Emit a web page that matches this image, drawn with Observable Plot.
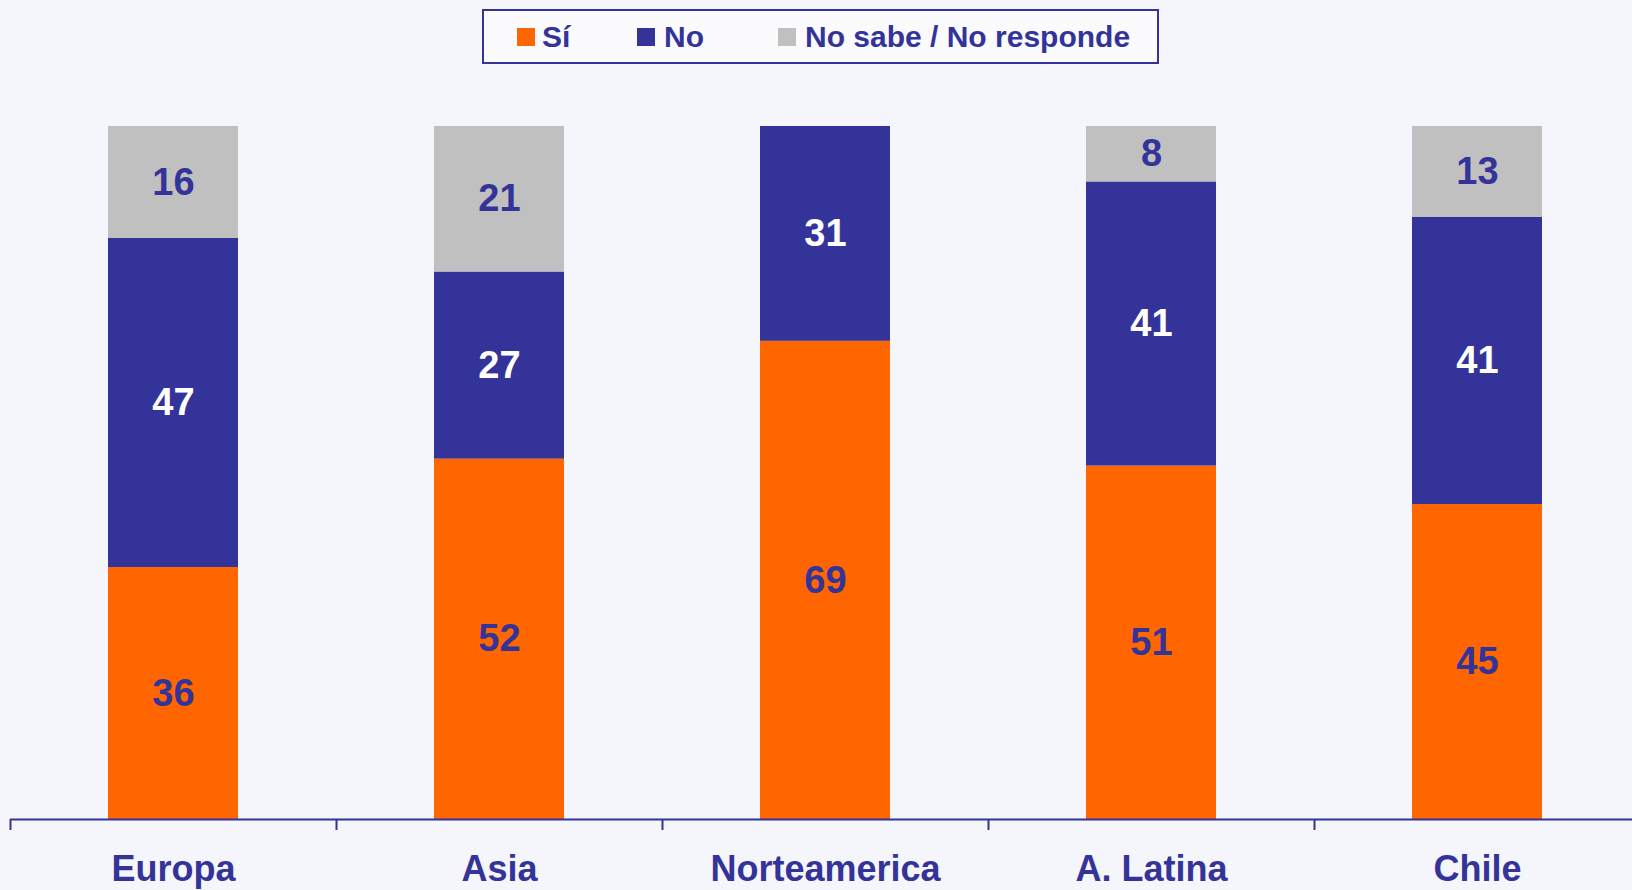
<!DOCTYPE html>
<html>
<head>
<meta charset="utf-8">
<script src="https://cdn.jsdelivr.net/npm/d3@7"></script>
<script src="https://cdn.jsdelivr.net/npm/@observablehq/plot@0.6"></script>
<style>
  html, body { margin: 0; padding: 0; background: #F5F6FC; width: 1632px; height: 890px; overflow: hidden; }
  body { position: relative; font-family: "Liberation Sans", Arial, sans-serif; font-weight: bold; }
  #legend { position: absolute; left: 482px; top: 9px; width: 673px; height: 51px; border: 2px solid #333399; background: #FBFBFE; }
  .sw { position: absolute; width: 18px; height: 18px; top: 28px; }
  .lt { position: absolute; top: 19px; font-size: 30px; line-height: 36px; color: #333399; white-space: nowrap; }
  #chart { position: absolute; left: 0; top: 70px; }
</style>
</head>
<body>
<div id="legend"></div>
<div id="chart"></div>
<script>
// Data
const regions = ["Europa", "Asia", "Norteamerica", "A. Latina", "Chile"];
const seriesNames = ["Sí", "No", "No sabe / No responde"];
const si = [36, 52, 69, 51, 45];
const no = [47, 27, 31, 41, 41];
const ns = [16, 21, 0, 8, 13];
const colors = ["#FF6600", "#333399", "#C0C0C0"];

const seriesValues = [si, no, ns];
const data = [];
seriesNames.forEach((s, k) => {
  regions.forEach((r, i) => data.push({region: r, series: s, value: seriesValues[k][i]}));
});

// Legend (HTML, above the SVG)
const legendPos = [[517, 542], [637, 664], [778, 805]];
seriesNames.forEach((s, i) => {
  const sw = document.createElement("div");
  sw.className = "sw";
  sw.style.left = legendPos[i][0] + "px";
  sw.style.background = colors[i];
  document.body.appendChild(sw);
  const t = document.createElement("div");
  t.className = "lt";
  t.style.left = legendPos[i][1] + "px";
  t.textContent = s;
  document.body.appendChild(t);
});

const W = 1632, H = 820;
const step = (W - 10 + 8) / regions.length;
const barW = 130;
const inset = (step - barW) / 2;
const font = "'Liberation Sans', Arial, sans-serif";
const stackOpts = {x: "region", y: "value", z: "series", offset: "normalize"};

const chart = Plot.plot({
  width: W,
  height: H,
  marginLeft: 10,
  marginRight: -8,
  marginTop: 56,
  marginBottom: 71,
  style: {background: "transparent", fontFamily: font, fontWeight: "bold", overflow: "hidden"},
  x: {domain: regions, padding: 0, label: null},
  y: {domain: [0, 1], axis: null},
  color: {domain: seriesNames, range: colors},
  marks: [
    Plot.barY(data, {...stackOpts, fill: "series", insetLeft: inset, insetRight: inset}),
    Plot.text(data, Plot.stackY({...stackOpts, text: d => (d.series !== "No" && d.value > 0) ? d.value : "", fill: "#333399", fontSize: 38, fontWeight: "bold"})),
    Plot.text(data, Plot.stackY({...stackOpts, text: d => (d.series === "No" && d.value > 0) ? d.value : "", fill: "white", fontSize: 38, fontWeight: "bold"})),
    Plot.ruleY([0], {stroke: "#333399", strokeWidth: 2}),
    Plot.axisX({anchor: "bottom", tickSize: 11, tickFormat: () => "", dx: -step / 2, stroke: "#333399", strokeWidth: 2}),
    Plot.axisX({anchor: "bottom", tickSize: 0, tickPadding: 36, fontSize: 36, fontWeight: "bold", fill: "#333399", label: null})
  ]
});
document.getElementById("chart").appendChild(chart);
</script>
</body>
</html>
